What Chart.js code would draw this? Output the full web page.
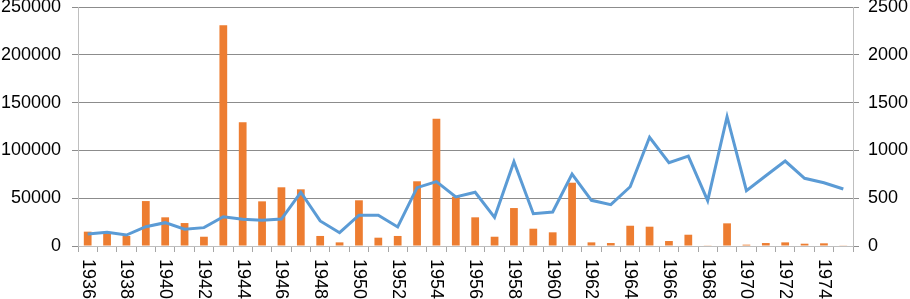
<!DOCTYPE html>
<html>
<head>
<meta charset="utf-8">
<script src="https://cdn.jsdelivr.net/npm/chart.js@4/dist/chart.umd.min.js"></script>
<style>
  body { margin: 0; background: #fff; }
  #wrap { width: 910px; height: 299px; }
</style>
</head>
<body>
<div id="wrap"><canvas id="chart"></canvas></div>
<script>
const years = ['1936','1937','1938','1939','1940','1941','1942','1943','1944','1945',
  '1946','1947','1948','1949','1950','1951','1952','1953','1954','1955',
  '1956','1957','1958','1959','1960','1961','1962','1963','1964','1965',
  '1966','1967','1968','1969','1970','1971','1972','1973','1974','1975'];

// left axis (bars)
const barValues = [15000, 13000, 10500, 47000, 30000, 24000, 9700, 231000, 129500, 46700,
  61400, 59300, 10500, 3800, 47800, 8700, 10500, 67700, 133200, 51600,
  30000, 9700, 39700, 18100, 14300, 66200, 3800, 3100, 21200, 20200,
  5200, 11800, 700, 23700, 1400, 3100, 3800, 2400, 2800, 700];

// right axis (line)
const lineValues = [125, 143, 115, 202, 244, 175, 192, 306, 279, 269,
  282, 562, 262, 139, 322, 321, 199, 610, 673, 513,
  562, 300, 882, 338, 356, 753, 478, 432, 620, 1137,
  871, 941, 474, 1353, 579, 735, 889, 708, 662, 596];

const FONT = { family: '"Liberation Sans", Arial, sans-serif', size: 18 };

// x labels in the original read top to bottom, chart.js only rotates the other way
const verticalLabels = {
  id: 'verticalLabels',
  afterDraw(chart) {
    const scale = chart.scales.x;
    const ctx = chart.ctx;
    ctx.save();
    ctx.font = FONT.size + 'px ' + FONT.family;
    ctx.fillStyle = '#000';
    ctx.textAlign = 'left';
    ctx.textBaseline = 'middle';
    scale.ticks.forEach((t, i) => {
      if (i % 2) return;
      const x = scale.getPixelForTick(i);
      ctx.save();
      ctx.translate(x, scale.top + 13);
      ctx.rotate(Math.PI / 2);
      ctx.fillText(years[i], 0, 0);
      ctx.restore();
    });
    ctx.restore();
  }
};

const fitY = (w) => (s) => {
  s.width = w;
  s.paddingTop = 7;
  s.paddingBottom = 0;
};

new Chart(document.getElementById('chart'), {
  type: 'bar',
  data: {
    labels: years,
    datasets: [
      {
        type: 'line',
        label: 'line',
        data: lineValues,
        yAxisID: 'y1',
        borderColor: '#5B9BD5',
        borderWidth: 3,
        pointRadius: 0,
        tension: 0,
        order: 0
      },
      {
        label: 'bars',
        data: barValues,
        yAxisID: 'y',
        backgroundColor: '#ED7D31',
        barPercentage: 0.4,
        categoryPercentage: 1,
        order: 1
      }
    ]
  },
  options: {
    responsive: true,
    maintainAspectRatio: false,
    animation: false,
    plugins: {
      legend: { display: false },
      tooltip: { enabled: false }
    },
    scales: {
      x: {
        offset: true,
        grid: { display: true, drawOnChartArea: false, offset: true, color: '#A6A6A6', tickLength: 6 },
        border: { color: '#BFBFBF' },
        ticks: {
          autoSkip: false,
          minRotation: 90,
          maxRotation: 90,
          color: 'rgba(0,0,0,0)',
          font: FONT,
          callback: (v, i) => years[i]
        },
        afterFit: (s) => { s.height = 53; }
      },
      y: {
        position: 'left',
        min: 0,
        max: 250000,
        ticks: { stepSize: 50000, color: '#000', font: FONT, padding: 11, callback: (v) => String(v) },
        grid: { color: '#8C8C8C', tickLength: 6 },
        border: { color: '#BFBFBF' },
        afterFit: fitY(78)
      },
      y1: {
        position: 'right',
        min: 0,
        max: 2500,
        ticks: { stepSize: 500, color: '#000', font: FONT, padding: 9, callback: (v) => String(v) },
        grid: { drawOnChartArea: false, color: '#8C8C8C', tickLength: 6 },
        border: { color: '#BFBFBF' },
        afterFit: fitY(57)
      }
    }
  },
  plugins: [verticalLabels]
});
</script>
</body>
</html>
